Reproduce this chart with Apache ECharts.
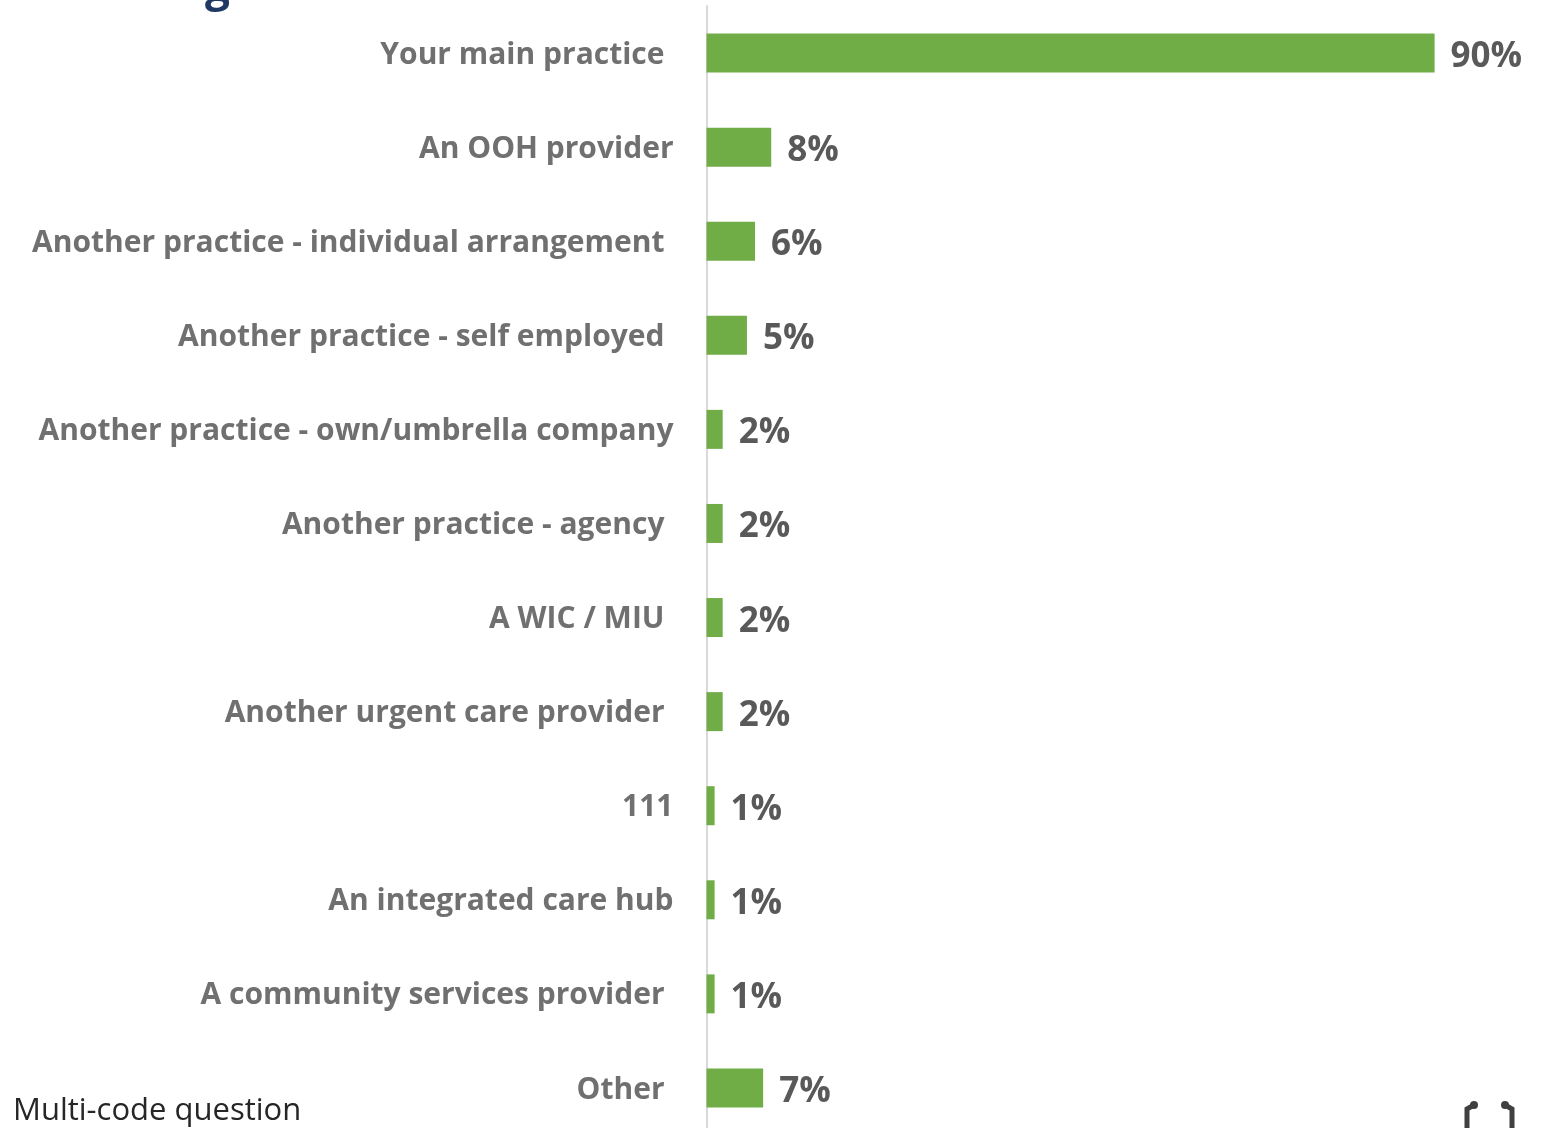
<!DOCTYPE html>
<html>
<head>
<meta charset="utf-8">
<script src="https://cdn.jsdelivr.net/npm/echarts@6/dist/echarts.min.js"></script>
<style>
html,body{margin:0;padding:0;background:#fff;}
#chart{width:1552px;height:1128px;}
</style>
</head>
<body>
<div id="chart"></div>
<script>
const categories = [
  'Your main practice',
  'An OOH provider',
  'Another practice - individual arrangement',
  'Another practice - self employed',
  'Another practice - own/umbrella company',
  'Another practice - agency',
  'A WIC / MIU',
  'Another urgent care provider',
  '111',
  'An integrated care hub',
  'A community services provider',
  'Other'
];
const values = [90, 8, 6, 5, 2, 2, 2, 2, 1, 1, 1, 7];
// labels whose right edge sits closer to the axis in the original
const nearLabels = ['An OOH provider', 'Another practice - own/umbrella company', '111', 'An integrated care hub'];
const footnote = 'Multi-code question';

const chart = echarts.init(document.getElementById('chart'));
const font = '"Open Sans", "Noto Sans", sans-serif';
chart.setOption({
  animation: false,
  grid: { left: 706.5, top: 6, width: 809, height: 1129, containLabel: false, outerBoundsMode: 'none' },
  xAxis: { type: 'value', min: 0, max: 100, show: false, splitLine: { show: false } },
  yAxis: {
    type: 'category',
    data: categories,
    inverse: true,
    axisLine: { show: true, lineStyle: { color: '#d9d9d9', width: 2 } },
    axisTick: { show: false },
    axisLabel: {
      margin: 33,
      formatter: function (v) { return nearLabels.indexOf(v) >= 0 ? '{n|' + v + '}' : '{f|' + v + '}'; },
      rich: {
        n: { fontFamily: font, fontSize: 30, fontWeight: 'bold', color: '#707070', padding: [4, 0, 0, 0] },
        f: { fontFamily: font, fontSize: 30, fontWeight: 'bold', color: '#707070', padding: [4, 9, 0, 0] }
      }
    }
  },
  series: [{
    type: 'bar',
    data: values,
    barWidth: 39,
    itemStyle: { color: '#70ad47' },
    label: {
      show: true,
      position: 'right',
      distance: 16,
      formatter: '{c}%',
      fontFamily: font,
      fontSize: 35,
      fontWeight: 'bold',
      color: '#595959',
      offset: [0, 4]
    }
  }],
  graphic: [
    { type: 'text', left: 13, top: 1096, style: { text: footnote, font: '31px ' + font, fill: '#262626' } },
    { type: 'text', left: 205, top: -34, style: { text: 'g', font: 'bold 44px ' + font, fill: '#1f3864' } },
    { type: 'polyline', shape: { points: [[1467, 1128], [1467, 1109], [1474, 1105]] }, style: { stroke: '#404040', lineWidth: 5, fill: null } },
    { type: 'circle', shape: { cx: 1474, cy: 1105, r: 4 }, style: { fill: '#404040' } },
    { type: 'polyline', shape: { points: [[1512, 1128], [1512, 1109], [1505, 1105]] }, style: { stroke: '#404040', lineWidth: 5, fill: null } },
    { type: 'circle', shape: { cx: 1505, cy: 1105, r: 4 }, style: { fill: '#404040' } }
  ]
});
</script>
</body>
</html>
